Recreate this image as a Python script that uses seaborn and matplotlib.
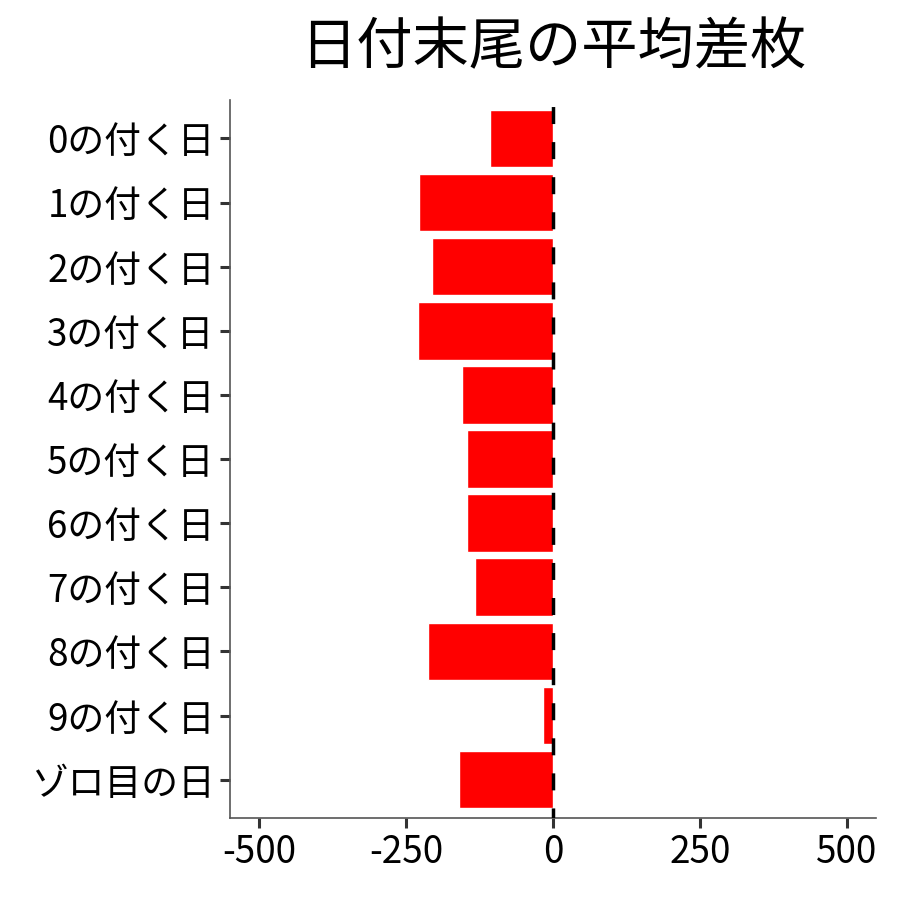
import matplotlib
matplotlib.use("Agg")
import matplotlib.pyplot as plt
import seaborn as sns
import pandas as pd

categories = ["0の付く日", "1の付く日", "2の付く日", "3の付く日", "4の付く日",
              "5の付く日", "6の付く日", "7の付く日", "8の付く日", "9の付く日", "ゾロ目の日"]
values = [-107, -228, -206, -230, -155, -146, -146, -133, -213, -17, -160]
xticks = [-500, -250, 0, 250, 500]
xticklabels = ["-500", "-250", "0", "250", "500"]
title = "日付末尾の平均差枚"

sns.set_theme(style="white")
plt.rcParams["font.family"] = ["Noto Sans CJK JP", "DejaVu Sans"]

df = pd.DataFrame({"cat": categories, "val": values})

fig = plt.figure(figsize=(9, 9), dpi=100)
ax = fig.add_axes([0.2556, 0.091, 0.7178, 0.798])

sns.barplot(data=df, x="val", y="cat", orient="h", color="#FF0000",
            saturation=1, width=0.9, ax=ax)
ax.axvline(0, color="black", linestyle=(2.0, (4.9, 5.2)), linewidth=2.5, zorder=5)

ax.set_xlim(-550, 550)
ax.set_ylim(len(categories) - 0.4, -0.6)
ax.set_xticks(xticks)
ax.set_xticklabels(xticklabels)
ax.set_xlabel("")
ax.set_ylabel("")
ax.tick_params(axis="both", bottom=True, left=True, labelsize=26.5, colors="#333333",
               length=7, width=2.2, labelcolor="black", pad=4)
for s in ["top", "right"]:
    ax.spines[s].set_visible(False)
for s in ["left", "bottom"]:
    ax.spines[s].set_color("#555555")
    ax.spines[s].set_linewidth(1.2)
ax.set_title(title, fontsize=40.5, pad=26, color="black")

fig.savefig("out.png", dpi=100, facecolor="white")
